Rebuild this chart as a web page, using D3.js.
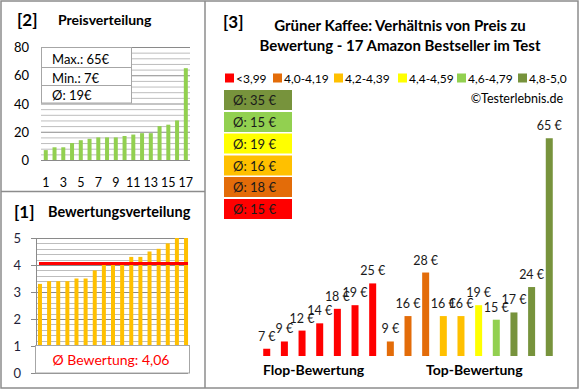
<!DOCTYPE html>
<html><head><meta charset="utf-8">
<script src="https://cdn.jsdelivr.net/npm/d3@7"></script>
<style>
html,body{margin:0;padding:0;background:#fff;}
svg text{font-family:Lato,"Open Sans",sans-serif;}
</style></head>
<body><svg id="c" width="580" height="390"></svg>
<script>
// ---------- data ----------
const priceLabels = d3.range(1,18);                 // product index 1..17
const prices = [7,9,9,12,14,15,16,16,16,17,18,19,19,24,25,28,65];
const priceTicks = [0,20,40,60,80];
const priceXTicks = [1,3,5,7,9,11,13,15,17];
const ratings = [3.3,3.4,3.4,3.4,3.5,3.5,3.8,4.0,4.0,4.0,4.3,4.3,4.5,4.6,4.8,5.0,5.0];
const ratingTicks = [0,1,2,3,4,5];
const avgRating = 4.06;
const statLines = ["Max.: 65€","Min.: 7€","Ø: 19€"];
const groupNames = ["<3,99","4,0-4,19","4,2-4,39","4,4-4,59","4,6-4,79","4,8-5,0"];
const groupColors = ["#FF0000","#E36C09","#FFC000","#FFFF00","#92D050","#77933C"];
const groupAvg = [15,18,16,19,15,35];
const rankPrices = [7,9,12,14,18,19,25,9,16,28,16,16,19,15,17,24,65];
const rankGroups = [0,0,0,0,0,0,0,1,1,1,2,2,3,4,5,5,5];

const svg = d3.select("#c");
const border = "#8c8c8c";

// ---------- panel borders ----------
svg.append("rect").attr("x",1).attr("y",1).attr("width",577).attr("height",387)
  .attr("fill","none").attr("stroke",border).attr("stroke-width",1.5);
svg.append("line").attr("x1",205).attr("x2",205).attr("y1",1).attr("y2",388).attr("stroke",border).attr("stroke-width",1.5);
svg.append("line").attr("x1",1).attr("x2",205).attr("y1",191.5).attr("y2",191.5).attr("stroke",border).attr("stroke-width",1.5);

// ---------- panel [2] price distribution ----------
const p2 = svg.append("g");
p2.append("text").attr("x",17).attr("y",26).attr("font-size",17).attr("font-weight","bold").text("[2]");
p2.append("text").attr("x",58).attr("y",25).attr("font-size",14).attr("font-weight","bold").text("Preisverteilung");
const x2 = d3.scaleBand().domain(priceLabels).range([41.4,190.2]);
const y2 = d3.scaleLinear().domain([0,80]).range([160,47]);
p2.append("g").selectAll("line").data(d3.range(0,81,4)).join("line")
  .attr("x1",41).attr("x2",190).attr("y1",d=>y2(d)+0.5).attr("y2",d=>y2(d)+0.5)
  .attr("stroke",d=>d%20===0?"#8a8a8a":"#bdbdbd").attr("stroke-width",1);
p2.append("g").selectAll("rect").data(prices).join("rect")
  .attr("x",(d,i)=>x2(i+1)+x2.bandwidth()/2-2).attr("width",4)
  .attr("y",d=>y2(d)).attr("height",d=>y2(0)-y2(d)).attr("fill","#92D050");
p2.append("g").selectAll("text").data(priceTicks).join("text")
  .attr("x",29).attr("y",d=>y2(d)+5).attr("text-anchor","end").attr("font-size",13).text(d=>d);
p2.append("g").selectAll("text").data(priceXTicks).join("text")
  .attr("x",d=>x2(d)+x2.bandwidth()/2).attr("y",187).attr("text-anchor","middle").attr("font-size",12.5).text(d=>d);
// stats box
p2.append("rect").attr("x",41.5).attr("y",47.5).attr("width",90).attr("height",55.5)
  .attr("fill","#fff").attr("stroke","#a6a6a6");
p2.append("g").selectAll("line").data([67.5,85.5]).join("line")
  .attr("x1",41.5).attr("x2",131.5).attr("y1",d=>d).attr("y2",d=>d).attr("stroke","#a6a6a6");
p2.append("g").selectAll("text").data(statLines).join("text")
  .attr("x",52).attr("y",(d,i)=>[64,82.5,99.5][i]).attr("font-size",13).text(d=>d);

// ---------- panel [1] rating distribution ----------
const p1 = svg.append("g");
p1.append("text").attr("x",14).attr("y",218).attr("font-size",17).attr("font-weight","bold").text("[1]");
p1.append("text").attr("x",48).attr("y",217).attr("font-size",14.5).attr("font-weight","bold").text("Bewertungsverteilung");
const x1 = d3.scaleBand().domain(priceLabels).range([35.4,190.6]);
const y1 = d3.scaleLinear().domain([0,5]).range([373,238]);
p1.append("g").selectAll("line").data(d3.range(0,25.5,1)).join("line")
  .attr("x1",36).attr("x2",188).attr("y1",d=>Math.round(y1(d/5))+0.5).attr("y2",d=>Math.round(y1(d/5))+0.5)
  .attr("stroke",d=>d%5===0?"#8a8a8a":"#bdbdbd");
p1.append("line").attr("x1",36.5).attr("x2",36.5).attr("y1",238).attr("y2",373).attr("stroke","#8a8a8a");
p1.append("g").selectAll("line.t").data(ratingTicks).join("line")
  .attr("x1",31).attr("x2",36).attr("y1",d=>Math.round(y1(d))+0.5).attr("y2",d=>Math.round(y1(d))+0.5).attr("stroke","#8a8a8a");
p1.append("g").selectAll("rect").data(ratings).join("rect")
  .attr("x",(d,i)=>x1(i+1)+x1.bandwidth()/2-2).attr("width",4)
  .attr("y",d=>y1(d)).attr("height",d=>y1(0)-y1(d)).attr("fill","#FFC000");
p1.append("line").attr("x1",39).attr("x2",188).attr("y1",y1(avgRating)).attr("y2",y1(avgRating))
  .attr("stroke","#FF0000").attr("stroke-width",3);
p1.append("g").selectAll("text").data(ratingTicks).join("text")
  .attr("x",21).attr("y",d=>y1(d)+5).attr("text-anchor","end").attr("font-size",13).attr("fill","#1f1f3a").text(d=>d);
p1.append("rect").attr("x",35.5).attr("y",345.5).attr("width",154).attr("height",27.5)
  .attr("fill","#fff").attr("stroke","#a6a6a6");
p1.append("text").attr("x",111).attr("y",365).attr("text-anchor","middle").attr("font-size",14)
  .attr("fill","#FF0000").text("Ø Bewertung: 4,06");

// ---------- panel [3] price vs rating ----------
const p3 = svg.append("g");
p3.append("text").attr("x",223).attr("y",28).attr("font-size",17).attr("font-weight","bold").text("[3]");
p3.append("text").attr("x",400).attr("y",31).attr("text-anchor","middle").attr("font-size",15).attr("font-weight","bold")
  .text("Grüner Kaffee: Verhältnis von Preis zu");
p3.append("text").attr("x",400).attr("y",51).attr("text-anchor","middle").attr("font-size",15).attr("font-weight","bold")
  .text("Bewertung - 17 Amazon Bestseller im Test");
// legend
const legX = [225,273,334,398,457,518];
const leg = p3.append("g").selectAll("g").data(groupNames).join("g")
  .attr("transform",(d,i)=>`translate(${legX[i]},78)`);
leg.append("rect").attr("x",0).attr("y",-4.5).attr("width",9).attr("height",9).attr("fill",(d,i)=>groupColors[i]);
leg.append("text").attr("x",11).attr("y",4.5).attr("font-size",12).text(d=>d);
p3.append("text").attr("x",563).attr("y",103).attr("text-anchor","end").attr("font-size",12.5).text("©Testerlebnis.de");
// average boxes (top = best group)
const avgOrder = d3.range(5,-1,-1);
const boxY = [90,112,133.5,155.5,177,199];
p3.append("g").selectAll("rect").data(avgOrder).join("rect")
  .attr("x",224).attr("y",(d,i)=>boxY[i]).attr("width",68).attr("height",20)
  .attr("fill",d=>groupColors[d]);
p3.append("g").selectAll("text").data(avgOrder).join("text")
  .attr("x",233).attr("y",(d,i)=>boxY[i]+15).attr("font-size",13).attr("fill","#1a1a1a")
  .text(d=>`Ø: ${groupAvg[d]} €`);
// bars
const x3 = d3.scaleBand().domain(d3.range(rankPrices.length)).range([257.9,558.1]);
const y3 = d3.scaleLinear().domain([5,70]).range([356,120.1]);
p3.append("g").selectAll("rect").data(rankPrices).join("rect")
  .attr("x",(d,i)=>x3(i)+x3.bandwidth()/2-3.5).attr("width",7)
  .attr("y",d=>y3(d)).attr("height",d=>y3(5)-y3(d)).attr("fill",(d,i)=>groupColors[rankGroups[i]]);
p3.append("g").selectAll("text").data(rankPrices).join("text")
  .attr("x",(d,i)=>x3(i)+x3.bandwidth()/2).attr("y",d=>y3(d)-8).attr("text-anchor","middle")
  .attr("font-size",12.5).attr("fill","#1a1a1a").text(d=>`${d} €`);
p3.append("text").attr("x",263).attr("y",375).attr("font-size",14).attr("font-weight","bold").text("Flop-Bewertung");
p3.append("text").attr("x",426).attr("y",375).attr("font-size",14).attr("font-weight","bold").text("Top-Bewertung");
</script></body></html>
